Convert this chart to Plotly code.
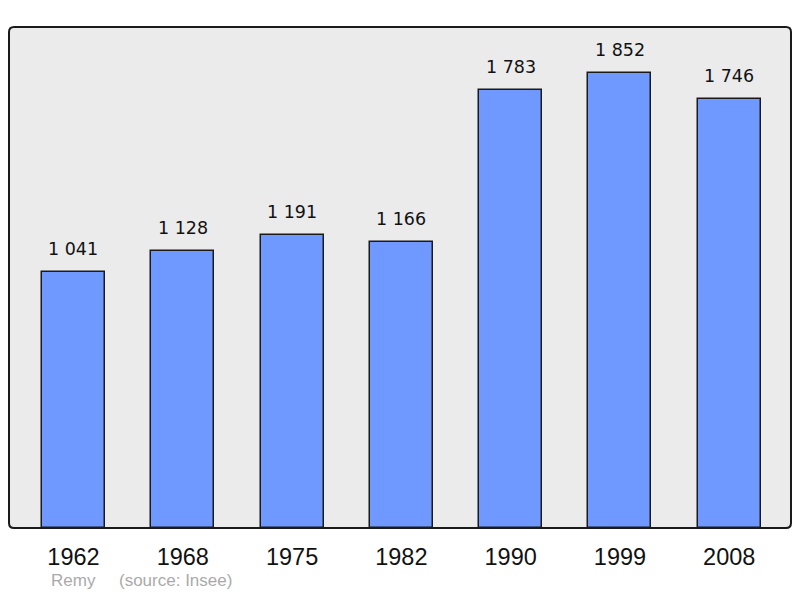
import plotly.graph_objects as go

years = ["1962", "1968", "1975", "1982", "1990", "1999", "2008"]
population = [1041, 1128, 1191, 1166, 1783, 1852, 1746]
value_labels = ["1 041", "1 128", "1 191", "1 166", "1 783", "1 852", "1 746"]

# page body has an 8px margin, so the figure is sized/offset to compensate
OFF = 8
W, H = 800 - 2 * OFF, 598 - 2 * OFF
L, R, T, B = 9 - OFF, 1, 27 - OFF, 62
pw, ph = W - L - R, H - T - B

fig = go.Figure()
fig.add_trace(go.Bar(
    x=list(range(len(years))), y=population, width=0.576,
    marker=dict(color="#7099ff", line=dict(color="#1a1a1a", width=1.5)),
    hoverinfo="skip",
))

for i, (v, t) in enumerate(zip(population, value_labels)):
    fig.add_annotation(x=i, y=v, text=t, showarrow=False, yanchor="bottom",
                       yshift=11, font=dict(family="DejaVu Sans", size=17.5, color="#111"))

# rounded frame around plot area, in paper coordinates
rx, ry = 5 / pw, 5 / ph
path = (f"M {rx},0 L {1-rx},0 Q 1,0 1,{ry} L 1,{1-ry} Q 1,1 {1-rx},1 "
        f"L {rx},1 Q 0,1 0,{1-ry} L 0,{ry} Q 0,0 {rx},0 Z")
fig.add_shape(type="path", path=path, xref="paper", yref="paper",
              line=dict(color="#1a1a1a", width=2), layer="above")

fig.add_annotation(x=(49 - OFF - L) / pw, y=-(580 - 528) / ph, xref="paper", yref="paper",
                   text="Remy&nbsp;&nbsp;&nbsp;&nbsp;&nbsp;(source: Insee)", showarrow=False,
                   xanchor="left", yanchor="middle",
                   font=dict(family="Liberation Sans, Arial", size=17, color="#aaaaaa"))

fig.update_layout(
    width=W, height=H,
    margin=dict(l=L, r=R, t=T, b=B),
    paper_bgcolor="white", plot_bgcolor="#ebebeb",
    showlegend=False, bargap=0,
    xaxis=dict(range=[-0.59, 6.565], tickmode="array", tickvals=list(range(len(years))),
               ticktext=years, showgrid=False, zeroline=False, showline=False,
               ticks="", ticklabelstandoff=12,
               tickfont=dict(family="Liberation Sans, Arial", size=23.5, color="#111")),
    yaxis=dict(range=[0, 2039], showgrid=False, zeroline=False, showticklabels=False,
               showline=False),
)

fig.write_html("out.html")
